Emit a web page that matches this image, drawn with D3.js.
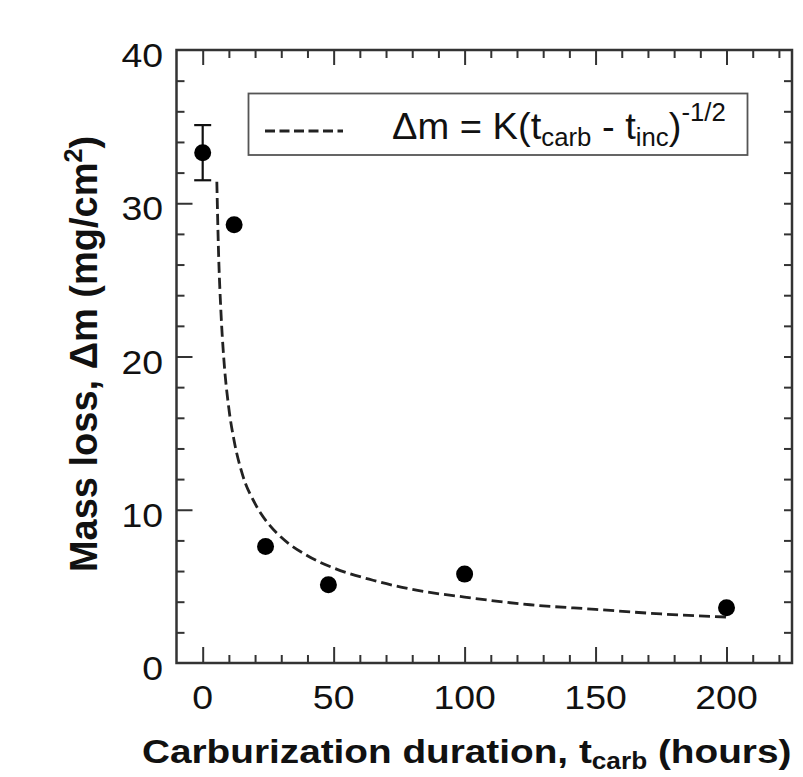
<!DOCTYPE html>
<html>
<head>
<meta charset="utf-8">
<script src="https://cdn.jsdelivr.net/npm/d3@7"></script>
<style>
  html, body { margin: 0; padding: 0; background: #fff; }
  svg { display: block; }
  text { font-family: "Liberation Sans", Arial, sans-serif; fill: #111; }
</style>
</head>
<body>
<svg id="chart" width="803" height="777"></svg>
<script>
// ---- data ----
const hours = [0, 12, 24, 48, 100, 200];
const massLoss = [33.3, 28.6, 7.6, 5.1, 5.8, 3.6];
const errorHours = [0];
const errorLow = [31.5];
const errorHigh = [35.1];
// fitted curve
const fitHours = [5.4, 6, 7, 8, 10, 12, 15, 20, 25, 30, 40, 50, 65, 80, 100, 125, 150, 175, 200];
const fitMass  = [31.4, 27.1, 22.8, 20.0, 16.6, 14.5, 12.4, 10.4, 9.1, 8.2, 7.0, 6.2, 5.4, 4.8, 4.3, 3.8, 3.5, 3.2, 3.0];
const xMajorTicks = [0, 50, 100, 150, 200];
const yMajorTicks = [0, 10, 20, 30, 40];

// ---- layout ----
const L = 176.5, R = 792, T = 50, B = 663;
const svg = d3.select("#chart");
const x = d3.scaleLinear().domain([-10, 225]).range([L, R]);
const y = d3.scaleLinear().domain([0, 40]).range([B, T]);

const xMinor = d3.range(-10, 226, 10);
const yMinor = d3.range(0, 41, 2);
const axisColor = "#333";

function styleAxis(g) {
  g.select(".domain").remove();
  g.selectAll(".tick line").attr("stroke", axisColor).attr("stroke-width", 2);
  g.selectAll("text").remove();
}

// bottom: minor + major (inward)
svg.append("g").attr("transform", `translate(0,${B})`)
  .call(d3.axisBottom(x).tickValues(xMinor.filter(v => v % 50 !== 0 && v > -10)).tickSize(-8)).call(styleAxis);
svg.append("g").attr("transform", `translate(0,${B})`)
  .call(d3.axisBottom(x).tickValues(xMajorTicks).tickSize(-16)).call(styleAxis);
// top
svg.append("g").attr("transform", `translate(0,${T})`)
  .call(d3.axisTop(x).tickValues(xMinor.filter(v => v % 50 !== 0 && v > -10)).tickSize(-8)).call(styleAxis);
svg.append("g").attr("transform", `translate(0,${T})`)
  .call(d3.axisTop(x).tickValues(xMajorTicks).tickSize(-15)).call(styleAxis);
// left
svg.append("g").attr("transform", `translate(${L},0)`)
  .call(d3.axisLeft(y).tickValues(yMinor.filter(v => v % 10 !== 0)).tickSize(-8)).call(styleAxis);
svg.append("g").attr("transform", `translate(${L},0)`)
  .call(d3.axisLeft(y).tickValues(yMajorTicks.filter(v => v > 0 && v < 40)).tickSize(-16)).call(styleAxis);
// right
svg.append("g").attr("transform", `translate(${R},0)`)
  .call(d3.axisRight(y).tickValues(yMinor.filter(v => v > 0 && v < 40)).tickSize(-8)).call(styleAxis);

// frame
svg.append("rect").attr("x", L).attr("y", T).attr("width", R - L).attr("height", B - T)
  .attr("fill", "none").attr("stroke", axisColor).attr("stroke-width", 2.5);

// tick labels
svg.append("g").selectAll("text").data(xMajorTicks).join("text")
  .attr("transform", d => `translate(${x(d)},709) scale(1.1,1)`).attr("text-anchor", "middle")
  .attr("font-size", 34).text(d => d);
svg.append("g").selectAll("text").data(yMajorTicks).join("text")
  .attr("transform", d => `translate(163,${y(d) + 17}) scale(1.1,1)`).attr("text-anchor", "end")
  .attr("font-size", 34).text(d => d);

// axis titles
const xt = svg.append("text").attr("transform", "translate(142,763) scale(1.14,1)")
  .attr("font-size", 34).attr("font-weight", "bold");
xt.append("tspan").text("Carburization duration, t");
xt.append("tspan").attr("font-size", 23).attr("dy", 6).text("carb");
xt.append("tspan").attr("dy", -6).text(" (hours)");

const yt = svg.append("text").attr("transform", "translate(97,354) rotate(-90)")
  .attr("text-anchor", "middle").attr("font-size", 38).attr("font-weight", "bold");
yt.append("tspan").text("Mass loss, Δm (mg/cm");
yt.append("tspan").attr("font-size", 25).attr("dy", -15).text("2");
yt.append("tspan").attr("dy", 15).text(")");

// fitted dashed curve
const fitLine = d3.line().x((d, i) => x(fitHours[i])).y(d => y(d)).curve(d3.curveMonotoneX);
svg.append("path").attr("d", fitLine(fitMass))
  .attr("fill", "none").attr("stroke", "#222").attr("stroke-width", 2.8)
  .attr("stroke-dasharray", "11,5");

// error bar
const eb = svg.append("g").attr("stroke", "#111").attr("stroke-width", 2.2);
errorHours.forEach((h, i) => {
  eb.append("line").attr("x1", x(h)).attr("x2", x(h)).attr("y1", y(errorLow[i])).attr("y2", y(errorHigh[i]));
  eb.append("line").attr("x1", x(h) - 8.5).attr("x2", x(h) + 8.5).attr("y1", y(errorLow[i])).attr("y2", y(errorLow[i]));
  eb.append("line").attr("x1", x(h) - 8.5).attr("x2", x(h) + 8.5).attr("y1", y(errorHigh[i])).attr("y2", y(errorHigh[i]));
});

// points
svg.append("g").selectAll("circle").data(massLoss).join("circle")
  .attr("cx", (d, i) => x(hours[i])).attr("cy", d => y(d)).attr("r", 8.5).attr("fill", "#000");

// legend
svg.append("rect").attr("x", 248.5).attr("y", 93.5).attr("width", 499).attr("height", 61.5)
  .attr("fill", "#fff").attr("stroke", "#555").attr("stroke-width", 1.8);
svg.append("line").attr("x1", 265).attr("x2", 343).attr("y1", 131).attr("y2", 131)
  .attr("stroke", "#222").attr("stroke-width", 2.8).attr("stroke-dasharray", "10,4.5");
const lt = svg.append("text").attr("transform", "translate(392,139) scale(1.03,1)").attr("font-size", 37);
lt.append("tspan").text("Δm = K(t");
lt.append("tspan").attr("font-size", 25).attr("dy", 7).text("carb");
lt.append("tspan").attr("dy", -7).text(" - t");
lt.append("tspan").attr("font-size", 25).attr("dy", 7).text("inc");
lt.append("tspan").attr("dy", -7).text(")");
lt.append("tspan").attr("font-size", 25).attr("dy", -18).text("-1/2");
</script>
</body>
</html>
